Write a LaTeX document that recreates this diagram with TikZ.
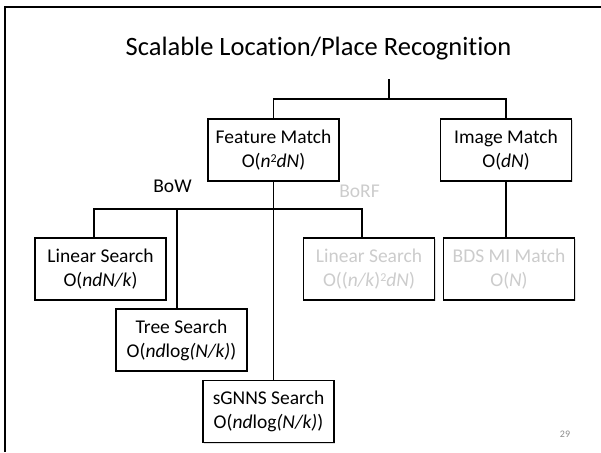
\documentclass[tikz,border=0pt]{standalone}
\usepackage{fontspec}
\setmainfont[Ligatures=NoCommon]{Carlito}
\usetikzlibrary{shadows}
\definecolor{faint}{gray}{0.80}
\definecolor{pnum}{gray}{0.55}
\newcommand{\sqsup}{\raisebox{5.4pt}{\fontsize{12}{12}\selectfont 2}}
\tikzset{
  box/.style={draw=black, line width=1.7pt, fill=white, minimum width=131pt, minimum height=62pt,
    inner sep=0pt, align=center, font=\fontsize{19.5}{24}\selectfont,
    drop shadow={shadow xshift=1pt, shadow yshift=-1pt, opacity=0.25}},
  conn/.style={draw=black, line width=1.7pt},
  lbl/.style={font=\fontsize{19.5}{24}\selectfont, anchor=base, inner sep=0pt},
}
\begin{document}
\begin{tikzpicture}[x=1pt,y=-1pt]
\useasboundingbox (0,0) rectangle (601,452);
% slide frame
\draw[line width=2pt] (4.7,452) -- (4.7,6.7) -- (601,6.7);
% title
\node[font=\fontsize{26.5}{30}\selectfont, anchor=base, inner sep=0pt] (title) at (318.5,56) {Scalable Location/Place Recognition};
% boxes
\node[box] (fm) at (273.5,150) {Feature Match\\O(\textit{n}\sqsup\textit{dN})};
\node[box] (im) at (506,150) {Image Match\\O(\textit{dN})};
\node[box] (ls1) at (100.5,269) {Linear Search\\O(\textit{ndN/k})};
\node[box] (ts) at (181.5,340) {Tree Search\\O(\textit{nd}log\textit{(N/k)})};
\node[box] (sg) at (268.5,411.5) {sGNNS Search\\O(\textit{nd}log\textit{(N/k)})};
\node[box, text=faint] (ls2) at (369,269) {Linear Search\\O((\textit{n/k})\sqsup\textit{dN})};
\node[box, text=faint] (bds) at (509,269) {BDS MI Match\\O(\textit{N})};
% labels
\node[lbl] (bow) at (172.5,192) {BoW};
\node[lbl, text=faint] (borf) at (359.5,197) {BoRF};
\node[font=\fontsize{10}{12}\selectfont, text=pnum, inner sep=0pt] (pg) at (565,434) {29};
% connectors
\coordinate (rt) at (389,79);
\coordinate (rj) at (389,99);
\draw[conn] (rt) -- (rj);
\draw[conn] (fm.north) -- (fm.north |- rj) -- (im.north |- rj) -- (im.north);
\draw[conn] (fm.south) -- (fm.south |- sg.north);
\draw[conn] (im.south) -- (im.south |- bds.north);
\coordinate (bl) at (94,209);
\coordinate (bt) at (177,209);
\coordinate (br) at (362,209);
\draw[conn] (bl |- ls1.north) -- (bl) -- (br) -- (br |- ls2.north);
\draw[conn] (bt) -- (bt |- ts.north);
\end{tikzpicture}
\end{document}
